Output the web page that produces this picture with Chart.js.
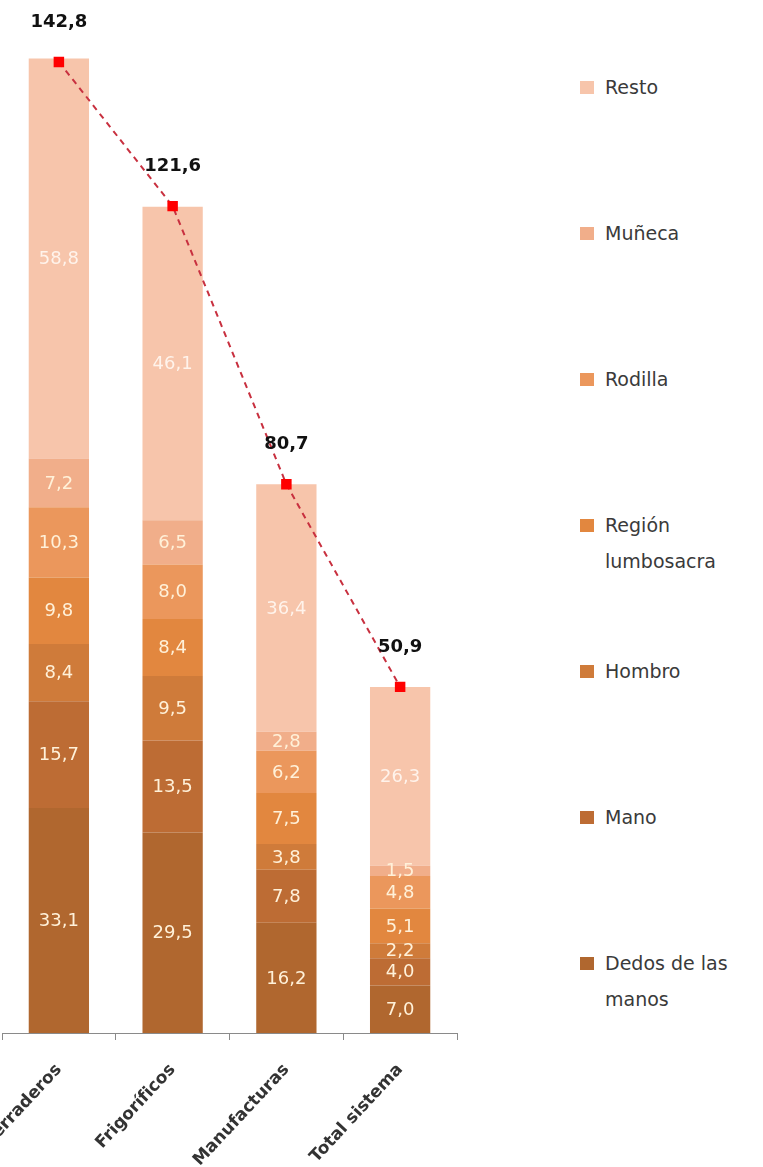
<!DOCTYPE html>
<html lang="es">
<head>
<meta charset="utf-8">
<title>Índice por zona del cuerpo</title>
<script src="https://cdn.jsdelivr.net/npm/chart.js@4"></script>
<style>
  html, body { margin: 0; padding: 0; background: #fff; }
  body { width: 763px; height: 1167px; position: relative; overflow: hidden; font-family: "DejaVu Sans", "Open Sans", sans-serif; }
  #chartBox { position: absolute; left: -6px; top: 0; width: 476px; height: 1167px; }
  #legend { position: absolute; left: 580px; top: 0; width: 183px; }
  .item { position: absolute; left: 0; display: flex; align-items: flex-start; }
  .swatch { width: 14px; height: 13px; margin-top: 12px; margin-right: 11px; flex: none; }
  .label { font-size: 19px; line-height: 36px; color: #3a3a3a; white-space: nowrap; }
</style>
</head>
<body>
<div id="chartBox"><canvas id="chart"></canvas></div>
<div id="legend"></div>
<script>
// Categorías (la primera aparece recortada en el original)
const categories = ['Aserraderos', 'Frigoríficos', 'Manufacturas', 'Total sistema'];

// Series, de abajo hacia arriba en cada barra
const dedos   = [33.1, 29.5, 16.2, 7.0];
const mano    = [15.7, 13.5, 7.8, 4.0];
const hombro  = [8.4, 9.5, 3.8, 2.2];
const lumbo   = [9.8, 8.4, 7.5, 5.1];
const rodilla = [10.3, 8.0, 6.2, 4.8];
const muneca  = [7.2, 6.5, 2.8, 1.5];
const resto   = [58.8, 46.1, 36.4, 26.3];

// Totales (línea punteada)
const totals = [142.8, 121.6, 80.7, 50.9];

const seriesNames = ['Dedos de las manos', 'Mano', 'Hombro', 'Región lumbosacra', 'Rodilla', 'Muñeca', 'Resto'];
const seriesData = [dedos, mano, hombro, lumbo, rodilla, muneca, resto];
const seriesColors = ['#B0672F', '#BD6C34', '#CF7B3A', '#E2873F', '#EB975C', '#F1AE8A', '#F7C5AB'];

const fmt = v => v.toFixed(1).replace('.', ',');

// Etiquetas de valores dentro de las barras y totales encima
const valueLabels = {
    id: 'valueLabels',
    afterDatasetsDraw(chart) {
        const ctx = chart.ctx;
        ctx.save();
        ctx.textAlign = 'center';
        ctx.textBaseline = 'middle';
        chart.data.datasets.forEach((ds, i) => {
            const meta = chart.getDatasetMeta(i);
            if (ds.type === 'line') {
                ctx.font = 'bold 18px "DejaVu Sans", sans-serif';
                ctx.fillStyle = '#111';
                meta.data.forEach((pt, j) => {
                    ctx.fillText(fmt(ds.data[j]), pt.x, pt.y - 40);
                });
            } else {
                ctx.font = '18px "DejaVu Sans", sans-serif';
                ctx.fillStyle = i === 6 ? 'rgba(255,246,238,0.95)' : '#FFF1D9';
                meta.data.forEach((bar, j) => {
                    ctx.fillText(fmt(ds.data[j]), bar.x, (bar.y + bar.base) / 2 + 1);
                });
            }
        });
        ctx.restore();
    }
};

const datasets = seriesData.map((data, i) => ({
    type: 'bar',
    label: seriesNames[i],
    data: data,
    backgroundColor: seriesColors[i],
    stack: 'zonas',
    order: 1,
    barPercentage: 0.53,
    categoryPercentage: 1
}));

datasets.push({
    type: 'line',
    label: 'Total',
    data: totals,
    stack: 'total',
    order: 0,
    borderColor: '#C8303F',
    borderWidth: 2,
    borderDash: [6, 5],
    pointStyle: 'rect',
    pointRadius: 6,
    pointBackgroundColor: '#FF0000',
    pointBorderColor: '#FF0000',
    fill: false,
    tension: 0
});

new Chart(document.getElementById('chart'), {
    data: { labels: categories, datasets: datasets },
    options: {
        responsive: true,
        maintainAspectRatio: false,
        animation: false,
        layout: { padding: { left: 1, right: 13, top: 13, bottom: 0 } },
        plugins: {
            legend: { display: false },
            tooltip: { enabled: false }
        },
        scales: {
            x: {
                stacked: true,
                grid: { drawOnChartArea: false, drawTicks: true, tickLength: 7, color: '#8a8a8a' },
                border: { display: true, color: '#8a8a8a' },
                ticks: {
                    color: '#333',
                    font: { family: '"DejaVu Sans", sans-serif', size: 17, weight: 'bold' },
                    minRotation: 47,
                    maxRotation: 47,
                    autoSkip: false,
                    padding: 20
                },
                afterFit(axis) {
                    axis.height = 134;
                    axis.paddingLeft = 0;
                    axis.paddingRight = 0;
                }
            },
            y: {
                stacked: true,
                display: false,
                min: 0,
                max: 150
            }
        }
    },
    plugins: [valueLabels]
});

// Leyenda a la derecha (de arriba hacia abajo: Resto ... Dedos)
const legendLines = {
    'Región lumbosacra': ['Región', 'lumbosacra'],
    'Dedos de las manos': ['Dedos de las', 'manos']
};
const legend = document.getElementById('legend');
for (let k = seriesNames.length - 1, row = 0; k >= 0; k--, row++) {
    const item = document.createElement('div');
    item.className = 'item';
    item.style.top = (87 + row * 146 - 18) + 'px';
    const sw = document.createElement('div');
    sw.className = 'swatch';
    sw.style.background = seriesColors[k];
    const lab = document.createElement('div');
    lab.className = 'label';
    lab.innerHTML = (legendLines[seriesNames[k]] || [seriesNames[k]]).join('<br>');
    item.appendChild(sw);
    item.appendChild(lab);
    legend.appendChild(item);
}
</script>
</body>
</html>
